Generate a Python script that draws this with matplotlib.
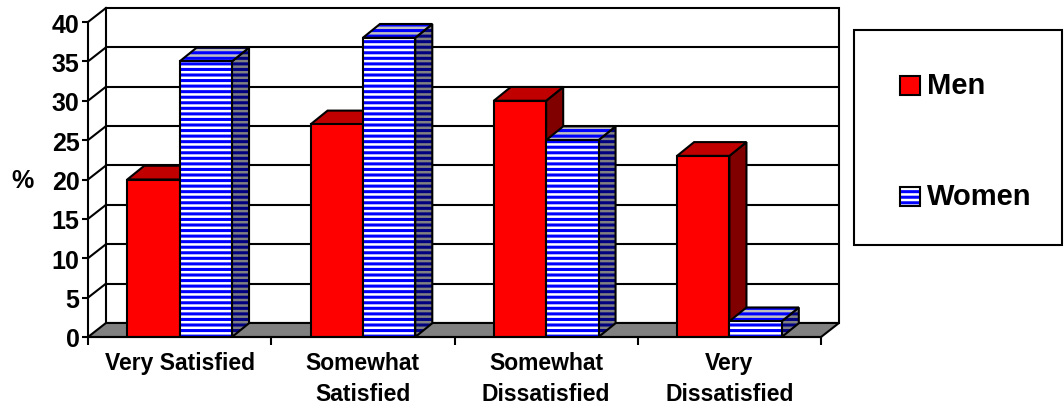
import matplotlib
matplotlib.use('Agg')
import matplotlib.pyplot as plt
from matplotlib.patches import Polygon, Rectangle

categories = ['Very Satisfied', 'Somewhat\nSatisfied', 'Somewhat\nDissatisfied', 'Very\nDissatisfied']
series_names = ['Men', 'Women']
men = [20, 27, 30, 23]
women = [35, 38, 25, 2]
y_ticks = [0, 5, 10, 15, 20, 25, 30, 35, 40]

plt.rcParams['font.family'] = ['Liberation Sans', 'DejaVu Sans']
plt.rcParams['font.weight'] = 'bold'
plt.rcParams['hatch.linewidth'] = 2.2

DX, DY = 0.098, 1.78   # depth of the 3d walls (data units)
BX, BY = 0.093, 1.75   # depth of the bars
LW = 1.5
HATCH = '---'
n = len(categories)
ymax = y_ticks[-1]
w = 1 / 3.5            # bar width, gap width 150%

# face colours: (facecolor, hatch colour) for side, top, front
men_faces = [('#800000', None), ('#C00000', None), ('#FF0000', None)]
women_faces = [('#808080', '#000080'), ('#C0C0C0', '#0000FF'), ('white', '#0000FF')]

fig = plt.figure(figsize=(10.64, 4.06), dpi=100)
ax = fig.add_axes([88 / 1064, 68 / 406, 751 / 1064, 329 / 406])
ax.set_xlim(0, n + DX)
ax.set_ylim(0, ymax + DY)

# back wall with grid
ax.add_patch(Rectangle((DX, DY), n, ymax, facecolor='white', edgecolor='black', lw=LW, clip_on=False, zorder=1))
for v in y_ticks[1:-1]:
    ax.plot([DX, n + DX], [v + DY, v + DY], color='black', lw=LW, zorder=1.5)
# left wall
for v in y_ticks[1:]:
    ax.plot([0, DX], [v, v + DY], color='black', lw=LW, zorder=1.5, clip_on=False)
# floor
ax.add_patch(Polygon([(0, 0), (n, 0), (n + DX, DY), (DX, DY)], facecolor='#808080',
                     edgecolor='black', lw=LW, zorder=2, clip_on=False))


def box(x0, h, faces):
    pts = [
        [(x0 + w, 0), (x0 + w + BX, BY), (x0 + w + BX, h + BY), (x0 + w, h)],
        [(x0, h), (x0 + w, h), (x0 + w + BX, h + BY), (x0 + BX, h + BY)],
        [(x0, 0), (x0 + w, 0), (x0 + w, h), (x0, h)],
    ]
    for p, (fc, hc) in zip(pts, faces):
        if hc:
            ax.add_patch(Polygon(p, facecolor=fc, edgecolor=hc, hatch=HATCH, lw=0, zorder=3))
            fc = 'none'
        ax.add_patch(Polygon(p, facecolor=fc, edgecolor='black', lw=LW, joinstyle='miter', zorder=3))


for i in range(n):
    x0 = i + 0.75 * w
    box(x0, men[i], men_faces)
    box(x0 + w, women[i], women_faces)

# axes
for s in ['top', 'right']:
    ax.spines[s].set_visible(False)
ax.spines['left'].set_bounds(0, ymax)
ax.spines['bottom'].set_bounds(0, n)
for s in ['left', 'bottom']:
    ax.spines[s].set_linewidth(LW)
    ax.spines[s].set_zorder(4)

ax.set_yticks(y_ticks)
ax.tick_params(axis='y', length=4.5, width=LW, pad=1.5, labelsize=18)
ax.set_xticks(range(n + 1))
ax.set_xticklabels([])
ax.set_xticks([i + 0.5 for i in range(n)], categories, minor=True)
ax.tick_params(axis='x', which='major', length=5.5, width=LW)
ax.tick_params(axis='x', which='minor', length=0, pad=10, labelsize=16.5)
for t in ax.get_xticklabels(minor=True):
    t.set_linespacing(1.45)

fig.text(22 / 1064, 1 - 181 / 406, '%', size=18, ha='center', va='center')

# legend
fig.add_artist(Rectangle((854 / 1064, 1 - 246 / 406), 208 / 1064, 215 / 406, transform=fig.transFigure,
                         facecolor='white', edgecolor='black', lw=LW))
leg_y = [86.5, 197]
leg_faces = [men_faces[2], women_faces[2]]
for name, yc, (fc, hc) in zip(series_names, leg_y, leg_faces):
    r = (900 / 1064, 1 - (yc + 9.5) / 406)
    if hc:
        fig.add_artist(Rectangle(r, 20 / 1064, 19 / 406, transform=fig.transFigure,
                                 facecolor=fc, edgecolor=hc, hatch=HATCH, lw=0))
        fc = 'none'
    fig.add_artist(Rectangle(r, 20 / 1064, 19 / 406, transform=fig.transFigure,
                             facecolor=fc, edgecolor='black', lw=LW))
    fig.text(927 / 1064, 1 - yc / 406, name, size=21, ha='left', va='center')

fig.savefig('out.png', dpi=100)
